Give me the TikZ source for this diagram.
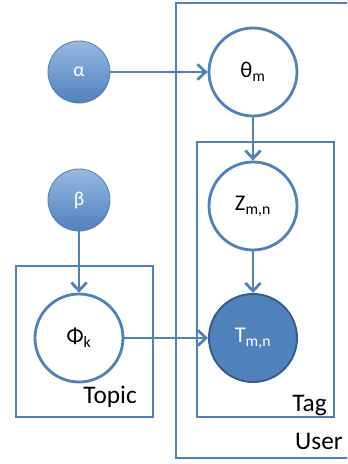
\documentclass[tikz,border=0pt]{standalone}
\usepackage{fontspec}
\setmainfont{Carlito}
\usetikzlibrary{arrows.meta}
\definecolor{plateblue}{RGB}{79,129,189}
\definecolor{hyperlight}{RGB}{151,185,226}
\definecolor{obsedge}{RGB}{56,93,138}
\begin{document}
\begin{tikzpicture}[
  plate/.style={draw=plateblue, line width=2pt},
  edge/.style={draw=plateblue, line width=2pt, -{Straight Barb[length=2mm,width=3.8mm]}},
  latent/.style={circle, draw=plateblue, line width=2pt, fill=white,
    minimum size=2.2cm, inner sep=0pt, font=\fontsize{16}{19}\selectfont},
  observed/.style={latent, fill=plateblue, draw=obsedge, line width=1.4pt, text=white},
  hyper/.style={circle, draw=plateblue, line width=0.6pt, top color=hyperlight,
    bottom color=plateblue, minimum size=1.55cm, inner sep=0pt, text=white,
    font=\fontsize{14}{16}\selectfont},
  platelabel/.style={anchor=base east, inner sep=0pt, font=\fontsize{18}{20}\selectfont}
]
  % Rahmen
  \clip (0,0) rectangle (8.675,11.6);
  % Platten
  \draw[plate] (9.0,11.525) -- (4.4,11.525) -- (4.4,0.15) -- (9.0,0.15);
  \draw[plate] (4.925,1.175) rectangle (8.35,8.05);
  \draw[plate] (0.4,1.175) rectangle (3.825,4.95);
  % Knoten
  \node[hyper] (alpha) at (1.975,9.8) {α};
  \node[hyper] (beta) at (1.975,6.6) {β};
  \node[latent] (theta) at (6.325,9.8) {θ\textsubscript{m}};
  \node[latent] (z) at (6.325,6.45) {Z\textsubscript{m,n}};
  \node[observed] (t) at (6.325,3.15) {T\textsubscript{m,n}};
  \node[latent] (phi) at (1.975,3.15) {Φ\textsubscript{k}};
  % Pfeile
  \draw[edge] (alpha) -- (theta);
  \draw[edge] (theta) -- (z);
  \draw[edge] (z) -- (t);
  \draw[edge] (beta) -- (phi);
  \draw[edge] (phi) -- (t);
  % Beschriftungen der Platten
  \node[platelabel] (topiclabel) at (3.425,1.5) {Topic};
  \node[platelabel] (taglabel) at (8.175,1.3) {Tag};
  \node[platelabel] (userlabel) at (8.575,0.35) {User};
\end{tikzpicture}
\end{document}
